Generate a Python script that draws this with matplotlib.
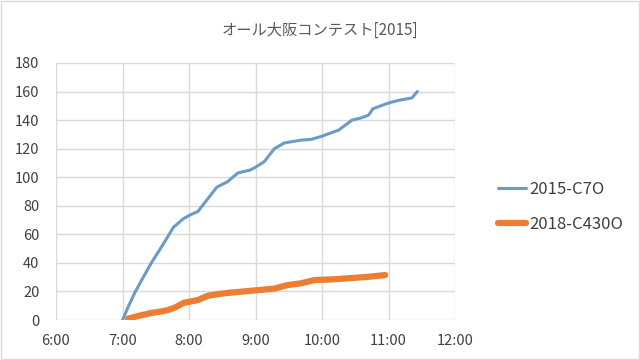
import matplotlib
matplotlib.use("Agg")
import matplotlib.pyplot as plt
from matplotlib.patches import Rectangle

plt.rcParams['font.family'] = ['Noto Sans CJK JP', 'DejaVu Sans']

TITLE = "オール大阪コンテスト[2015]"

# QSO count over time
C7O_TIME = ["7:00", "7:05", "7:11", "7:18", "7:26", "7:35", "7:46", "7:55", "8:02", "8:08",
            "8:17", "8:25", "8:35", "8:44", "8:55", "9:00", "9:08", "9:17", "9:26", "9:41",
            "9:50", "9:59", "10:15", "10:27", "10:35", "10:42", "10:46", "11:00", "11:10",
            "11:21", "11:26"]
C7O_QSO = [0, 9, 19, 29, 40, 51, 65, 71, 74, 76,
           85, 93, 97, 103, 105, 107, 111, 120, 124, 126,
           126.5, 128.5, 133, 140, 141.5, 143.5, 148, 152, 154,
           155.5, 160]

C430_TIME = ["7:05", "7:15", "7:26", "7:35", "7:41", "7:48", "7:55", "8:08", "8:17", "8:25",
             "8:35", "8:56", "9:10", "9:17", "9:29", "9:41", "9:53", "10:10", "10:23",
             "10:42", "10:57"]
C430_QSO = [1, 3, 5, 6, 7, 9, 12, 14, 17, 18,
            19, 20.5, 21.5, 22, 24.5, 25.7, 28, 28.5, 29.2,
            30.3, 31.5]

SERIES = ["2015-C7O", "2018-C430O"]
X_TICKS = ["6:00", "7:00", "8:00", "9:00", "10:00", "11:00", "12:00"]


def hours(t):
    h, m = t.split(":")
    return int(h) + int(m) / 60


fig = plt.figure(figsize=(6.4, 3.6), dpi=100)
ax = fig.add_axes([0.0875, 0.111, 0.6235, 0.714])

ax.plot([hours(t) for t in C7O_TIME], C7O_QSO, color='#6b9bc7', lw=2.2,
        label=SERIES[0], solid_capstyle='round')
ax.plot([hours(t) for t in C430_TIME], C430_QSO, color='#ed7d31', lw=4.5,
        label=SERIES[1], solid_capstyle='round')

ax.set_xlim(6, 12)
ax.set_ylim(0, 180)
ax.set_xticks([hours(t) for t in X_TICKS])
ax.set_xticklabels(X_TICKS)
ax.set_yticks(range(0, 181, 20))
ax.grid(True, color='#d9d9d9', lw=1)
ax.set_axisbelow(True)
for s in ax.spines.values():
    s.set_visible(False)
ax.tick_params(length=0, labelsize=10.5, colors='#404040')
ax.tick_params(axis='x', pad=10)
ax.tick_params(axis='y', pad=12)

fig.text(0.5, 0.915, TITLE, ha='center', va='center', fontsize=11, color='#595959')

leg = ax.legend(loc='center left', bbox_to_anchor=(1.07, 0.44), frameon=False,
                fontsize=12, handlelength=1.7, handletextpad=0.2, labelspacing=1.1,
                labelcolor='#404040')

fig.patches.append(Rectangle((0.002, 0.003), 0.996, 0.994, transform=fig.transFigure,
                             fill=False, edgecolor='#d9d9d9', lw=1))

fig.savefig("out.png", dpi=100)
